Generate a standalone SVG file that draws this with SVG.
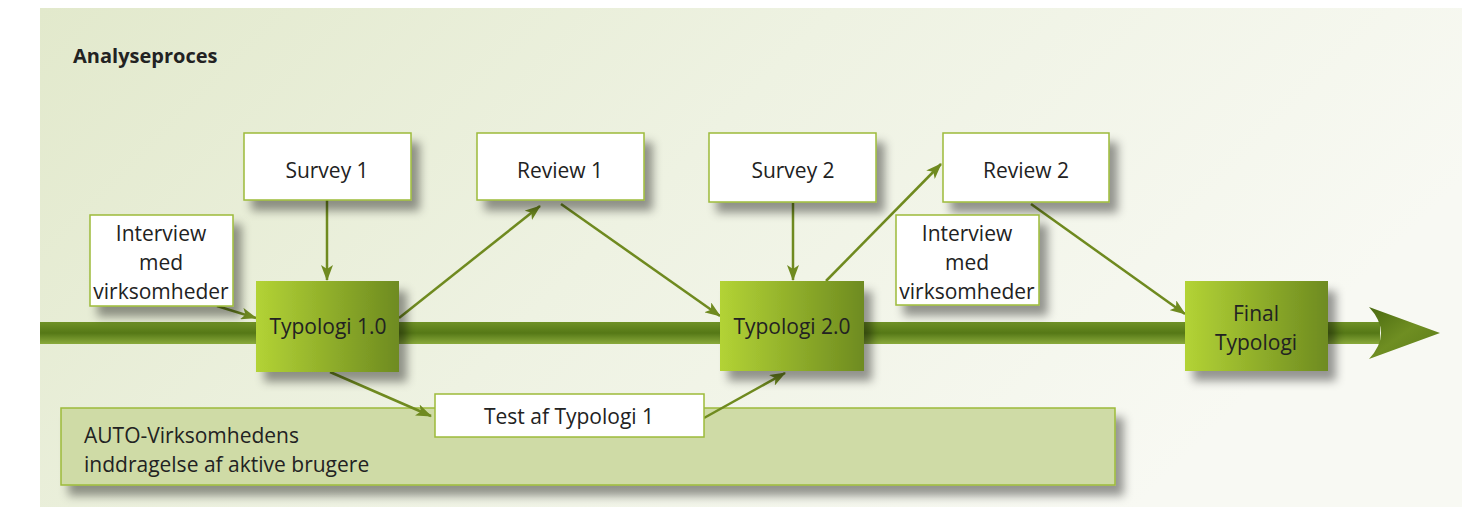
<svg xmlns="http://www.w3.org/2000/svg" width="1462" height="507" viewBox="0 0 1462 507">
<defs>
<linearGradient id="bg" x1="0" y1="0" x2="1" y2="0.35">
<stop offset="0" stop-color="#e2e9cc"/><stop offset="0.5" stop-color="#eef2e2"/><stop offset="1" stop-color="#f8f9f3"/>
</linearGradient>
<linearGradient id="typ" x1="0" y1="0" x2="1" y2="0">
<stop offset="0" stop-color="#b3d335"/><stop offset="1" stop-color="#6e8b20"/>
</linearGradient>
<linearGradient id="bar" x1="0" y1="0" x2="0" y2="1">
<stop offset="0" stop-color="#6f9126"/><stop offset="0.5" stop-color="#557816"/><stop offset="1" stop-color="#8aaa3c"/>
</linearGradient>
<linearGradient id="head" x1="0" y1="0" x2="1" y2="1">
<stop offset="0" stop-color="#4a6a10"/><stop offset="0.5" stop-color="#6f8e22"/><stop offset="1" stop-color="#5b7c18"/>
</linearGradient>
<filter id="sh" x="-20%" y="-20%" width="150%" height="160%">
<feDropShadow dx="8" dy="10" stdDeviation="5" flood-color="#000" flood-opacity="0.4"/>
</filter>
<marker id="ah" markerWidth="16" markerHeight="12" refX="15" refY="6" orient="auto" markerUnits="userSpaceOnUse">
<path d="M0,0 L16,6 L0,12 L4,6 Z" fill="#6f8a1f"/>
</marker>
<style>
.t{font-family:"Open Sans","Liberation Sans",sans-serif;font-size:21px;fill:#222;text-anchor:middle}
.w{fill:#fff;stroke:#9dbb3a;stroke-width:1.5}
.g{fill:url(#typ)}
.c{stroke:#6f8a1f;stroke-width:2.5;fill:none;marker-end:url(#ah)}
</style>
</defs>
<rect x="40" y="8" width="1422" height="499" fill="url(#bg)"/>
<text x="73" y="63" style="font-family:'Open Sans','Liberation Sans',sans-serif;font-size:20px;font-weight:bold;fill:#222">Analyseproces</text>

<g id="bottom-box">
<rect x="61" y="408" width="1054" height="77" fill="#cfdba6" stroke="#9dbb3a" stroke-width="1.5" filter="url(#sh)"/>
<text x="84" y="443" class="t" style="text-anchor:start">AUTO-Virksomhedens</text>
<text x="84" y="472" class="t" style="text-anchor:start">inddragelse af aktive brugere</text>
</g>

<g id="main-arrow">
<rect x="40" y="322" width="1340" height="22" fill="url(#bar)"/>
<path d="M1369,307 L1440,333 L1369,359 Q1393,333 1369,307 Z" fill="url(#head)"/>
</g>

<g id="connectors">
<line x1="327" y1="200" x2="327" y2="280" class="c"/>
<line x1="217" y1="306" x2="256" y2="318" class="c"/>
<line x1="399" y1="318" x2="540" y2="206" class="c"/>
<line x1="561" y1="204" x2="720" y2="316" class="c"/>
<line x1="793" y1="203" x2="793" y2="280" class="c"/>
<line x1="826" y1="281" x2="941" y2="164" class="c"/>
<line x1="1031" y1="204" x2="1185" y2="314" class="c"/>
<line x1="330" y1="372" x2="431" y2="416" class="c"/>
<line x1="704" y1="418" x2="785" y2="373" class="c"/>
</g>

<g id="survey1"><rect x="244" y="133" width="167" height="67" class="w" filter="url(#sh)"/><text x="327" y="178" class="t">Survey 1</text></g>
<g id="review1"><rect x="477" y="133" width="167" height="67" class="w" filter="url(#sh)"/><text x="560" y="178" class="t">Review 1</text></g>
<g id="survey2"><rect x="709" y="133" width="167" height="69" class="w" filter="url(#sh)"/><text x="793" y="178" class="t">Survey 2</text></g>
<g id="review2"><rect x="943" y="133" width="166" height="69" class="w" filter="url(#sh)"/><text x="1026" y="178" class="t">Review 2</text></g>

<g id="interview1"><rect x="90" y="215" width="143" height="91" class="w" filter="url(#sh)"/>
<text x="161" y="241" class="t">Interview</text><text x="161" y="270" class="t">med</text><text x="161" y="299" class="t">virksomheder</text></g>
<g id="interview2"><rect x="896" y="215" width="143" height="90" class="w" filter="url(#sh)"/>
<text x="967" y="241" class="t">Interview</text><text x="967" y="270" class="t">med</text><text x="967" y="299" class="t">virksomheder</text></g>

<g id="typologi1"><rect x="256" y="281" width="143" height="91" class="g" filter="url(#sh)"/><text x="328" y="334" class="t">Typologi 1.0</text></g>
<g id="typologi2"><rect x="720" y="281" width="144" height="90" class="g" filter="url(#sh)"/><text x="792" y="334" class="t">Typologi 2.0</text></g>
<g id="final"><rect x="1185" y="281" width="143" height="90" class="g" filter="url(#sh)"/><text x="1256" y="321" class="t">Final</text><text x="1256" y="350" class="t">Typologi</text></g>

<g id="test"><rect x="435" y="394" width="269" height="43" class="w"/><text x="569" y="424" class="t">Test af Typologi 1</text></g>
</svg>
